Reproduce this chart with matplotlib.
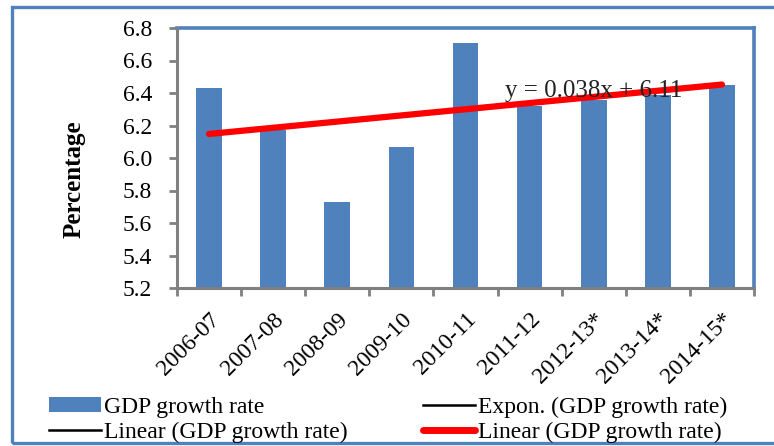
import matplotlib.pyplot as plt
from matplotlib.lines import Line2D
from matplotlib.patches import Patch, Rectangle
import numpy as np

years = ['2006-07', '2007-08', '2008-09', '2009-10', '2010-11',
         '2011-12', '2012-13*', '2013-14*', '2014-15*']
gdp_growth = [6.43, 6.17, 5.73, 6.07, 6.71, 6.32, 6.36, 6.39, 6.45]

# linear trend as printed on the chart: y = 0.038x + 6.11 (x = 1..9)
trend_slope = 0.038
trend_intercept = 6.11

bar_color = '#4f81bd'
axis_gray = '#808080'

plt.rcParams['font.family'] = ['Liberation Serif', 'DejaVu Serif']

fig = plt.figure(figsize=(7.74, 4.46), dpi=100)
ax = fig.add_axes([177 / 774, 1 - 288 / 446, (754 - 177) / 774, (288 - 28) / 446])

x = np.arange(len(years))
ax.bar(x, gdp_growth, width=0.4, color=bar_color, zorder=2)

trend_x = np.array([1, len(years)])
trend_y = trend_slope * trend_x + trend_intercept
ax.plot(trend_x - 1, trend_y, color='#ff0000', linewidth=4.5,
        solid_capstyle='round', zorder=3)
ax.text(4.62, 6.41, 'y = 0.038x + 6.11', fontsize=18, va='center',
        ha='left', color='#222222', zorder=4)

ax.set_xlim(-0.5, len(years) - 0.5)
ax.set_ylim(5.2, 6.8)
ax.set_yticks(np.arange(5.2, 6.81, 0.2))
ax.set_yticklabels([f'{v:.1f}' for v in np.arange(5.2, 6.81, 0.2)], fontsize=17)

# ticks sit between categories, labels under each bar
ax.set_xticks(np.arange(-0.5, len(years), 1.0))
ax.set_xticklabels([])
ax.set_xticks(x, minor=True)
ax.set_xticklabels(years, minor=True, rotation=45, ha='right',
                   rotation_mode='anchor', fontsize=17)
ax.tick_params(axis='x', which='minor', length=0, pad=15)
ax.tick_params(axis='x', which='major', length=6, width=2, color=axis_gray)
ax.tick_params(axis='y', length=6, width=2, color=axis_gray, pad=12)

ax.spines['left'].set_color(axis_gray)
ax.spines['bottom'].set_color(axis_gray)
ax.spines['left'].set_linewidth(2.2)
ax.spines['bottom'].set_linewidth(2.2)
ax.spines['top'].set_color(bar_color)
ax.spines['right'].set_color(bar_color)
ax.spines['top'].set_linewidth(2.6)
ax.spines['right'].set_linewidth(2.6)
ax.spines['left'].set_zorder(5)
ax.spines['bottom'].set_zorder(5)

ax.set_ylabel('Percentage', fontsize=18, fontweight='bold')
ax.yaxis.set_label_coords(-0.158, 0.419)

handles = [
    Patch(facecolor=bar_color),
    Line2D([], [], color='black', linewidth=1.8),
    Line2D([], [], color='black', linewidth=1.8),
    Line2D([], [], color='#ff0000', linewidth=5, solid_capstyle='round'),
]
labels = ['GDP growth rate', 'Linear (GDP growth rate)',
          'Expon. (GDP growth rate)', 'Linear (GDP growth rate)']
fig.legend(handles, labels, ncol=2, loc='lower left',
           bbox_to_anchor=(40 / 774, -6 / 446), frameon=False, fontsize=17,
           handlelength=2.2, handleheight=0.6, handletextpad=0.12,
           columnspacing=3.2, labelspacing=0.15, borderaxespad=0)

# outer chart frame
fig.patches.append(Rectangle((12 / 774, 3 / 446), 0.99, 436 / 446,
                             transform=fig.transFigure, fill=False,
                             edgecolor=bar_color, linewidth=2.4))

fig.savefig('out.png', dpi=100)
